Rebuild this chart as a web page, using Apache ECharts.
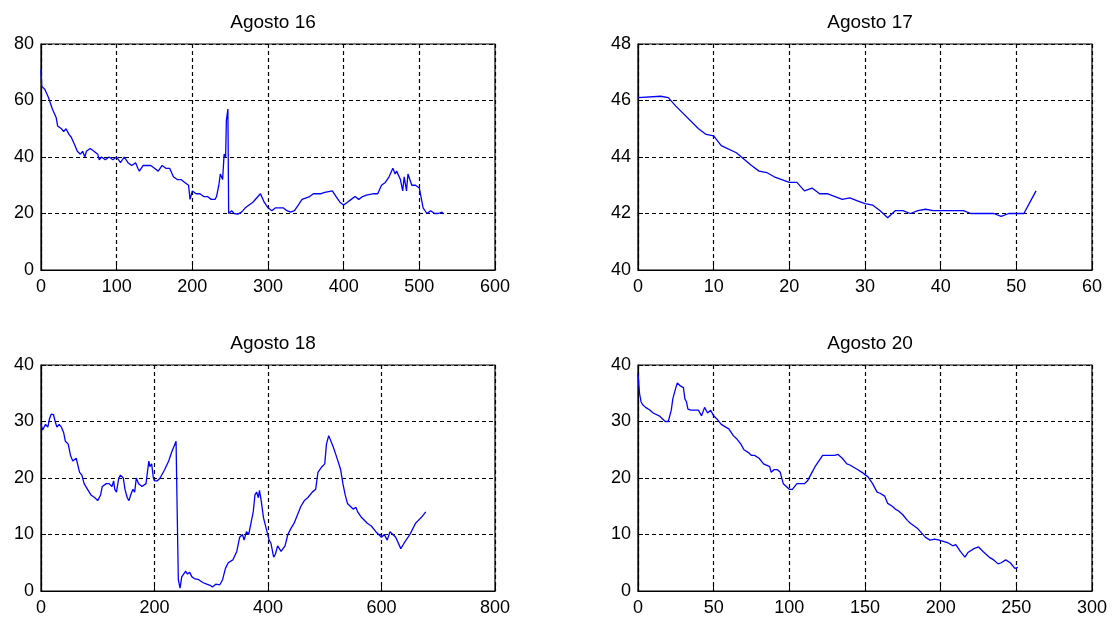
<!DOCTYPE html>
<html>
<head>
<meta charset="utf-8">
<script src="https://cdn.jsdelivr.net/npm/echarts@6/dist/echarts.min.js"></script>
<style>
  html, body { margin: 0; padding: 0; background: #fff; }
  #chart { width: 1117px; height: 619px; }
</style>
</head>
<body>
<div id="chart"></div>
<script>
// Agosto 16
const ago16X = [0, 1, 5, 10, 15, 20, 22, 27, 30, 33, 37, 40, 45, 48, 52, 55, 58, 60, 65, 70, 75, 77, 80, 85, 90, 95, 100, 105, 110, 115, 120, 125, 128, 130, 135, 140, 145, 150, 155, 160, 165, 170, 175, 180, 185, 190, 195, 197, 200, 205, 210, 215, 220, 225, 230, 232, 235, 237, 240, 242, 244, 245, 247, 248, 252, 255, 260, 265, 270, 280, 290, 295, 300, 305, 310, 320, 325, 330, 335, 340, 345, 355, 360, 370, 375, 385, 390, 395, 400, 405, 410, 415, 420, 425, 430, 440, 445, 450, 455, 460, 465, 468, 470, 475, 478, 480, 483, 485, 490, 495, 500, 505, 510, 515, 520, 525, 530, 532];
const ago16Y = [71, 65, 64, 61, 57, 54, 51, 50, 49, 50, 48, 47, 44, 42, 41, 42, 40, 42, 43, 42, 41, 39, 40, 39, 40, 39, 40, 38, 40, 38, 37, 38, 36, 35, 37, 37, 37, 36, 35, 37, 36, 36, 33, 32, 32, 31, 30, 25, 28, 27, 27, 26, 26, 25, 25, 26, 30, 34, 32, 41, 40, 53, 57, 20, 21, 20, 19.8, 20.5, 22, 24, 27, 24, 22, 21, 22, 22, 21, 20.5, 21, 23, 25, 26, 27, 27, 27.5, 28, 26, 24, 23, 24, 25, 26, 25, 26, 26.5, 27, 27, 30, 31, 33, 36, 34, 35, 32, 28, 33, 28, 34, 30, 30, 29, 22, 20, 21, 20, 20, 20.5, 19.8];

// Agosto 17
const ago17X = [0, 3, 4, 5, 8, 9, 10, 11, 13, 15, 16, 17, 18, 20, 21, 22, 23, 24, 25, 27, 28, 29, 30, 31, 32, 33, 34, 35, 36, 37, 38, 39, 43, 44, 47, 48, 49, 51, 52, 52.6];
const ago17Y = [46.1, 46.15, 46.1, 45.8, 45.0, 44.8, 44.75, 44.4, 44.15, 43.7, 43.5, 43.45, 43.3, 43.1, 43.1, 42.8, 42.9, 42.7, 42.7, 42.5, 42.55, 42.45, 42.35, 42.3, 42.1, 41.85, 42.1, 42.1, 42.0, 42.1, 42.15, 42.1, 42.1, 42.0, 42.0, 41.9, 42.0, 42.0, 42.5, 42.8];

// Agosto 18
const ago18X = [0, 3, 8, 12, 15, 18, 22, 25, 28, 32, 36, 40, 43, 48, 52, 56, 62, 68, 72, 76, 82, 88, 95, 100, 105, 108, 115, 120, 125, 128, 130, 133, 137, 140, 145, 148, 152, 155, 158, 162, 165, 168, 172, 178, 185, 190, 192, 195, 198, 200, 205, 210, 218, 225, 230, 238, 240, 242, 245, 248, 255, 258, 262, 266, 270, 278, 285, 292, 298, 302, 308, 315, 320, 325, 330, 338, 345, 350, 355, 358, 362, 366, 370, 374, 377, 380, 383, 385, 388, 392, 397, 402, 405, 410, 413, 417, 423, 430, 435, 440, 446, 452, 458, 464, 470, 478, 484, 488, 495, 500, 503, 507, 510, 515, 520, 528, 532, 536, 540, 545, 550, 555, 558, 565, 575, 582, 590, 595, 600, 605, 610, 615, 620, 625, 634, 640, 650, 655, 660, 665, 670, 678];
const ago18Y = [29.5, 28.5, 29.5, 29, 30.5, 31.3, 31.2, 30, 29, 29.5, 29, 28, 26.5, 26, 24, 23, 23.5, 21, 20.5, 19, 18, 17, 16.5, 16, 17, 18.5, 19, 19, 18.5, 19.5, 18, 17.5, 20, 20.5, 20, 18, 16.5, 16, 17, 18, 17.5, 20, 19, 18.5, 19, 23, 22, 22.5, 20, 19.5, 19.5, 20, 21.5, 23, 24.5, 26.5, 14, 2, 0.5, 2.5, 3.5, 3, 3.3, 2.5, 2.2, 2, 1.5, 1.2, 1.0, 0.7, 1.2, 1.1, 2, 4, 5, 5.5, 7, 9.5, 10, 9, 10.5, 10, 12, 14, 17, 17.5, 16.5, 17.8, 16, 13, 11, 9, 8.5, 6, 6.5, 8, 7, 8, 10, 11, 12, 13.5, 15, 16, 16.5, 17.5, 18, 21, 22, 22.5, 26, 27.5, 27.2, 25.5, 24, 21.5, 19, 17, 15.5, 15, 14.5, 14.8, 14, 13, 12, 11.5, 10.5, 10, 9.5, 10, 9, 10.5, 10, 9.5, 7.5, 8.5, 10, 11, 12, 12.5, 13, 14];

// Agosto 20
const ago20X = [0, 1, 2, 3, 5, 8, 10, 14, 18, 19, 20, 22, 23, 25, 26, 28, 30, 31, 32, 33, 35, 40, 42, 44, 46, 48, 50, 52, 55, 58, 60, 63, 65, 68, 70, 73, 75, 77, 80, 83, 87, 88, 90, 92, 94, 96, 98, 100, 102, 105, 110, 112, 115, 117, 120, 122, 125, 130, 132, 135, 138, 140, 145, 148, 150, 152, 155, 158, 160, 163, 165, 168, 170, 172, 175, 178, 180, 185, 190, 193, 196, 199, 200, 205, 208, 210, 213, 216, 218, 222, 225, 228, 232, 235, 238, 240, 243, 246, 249, 251];
const ago20Y = [38.5, 35, 33.5, 33, 32.5, 32, 31.5, 31, 30, 29.8, 30, 32, 34, 36, 36.8, 36.3, 36, 34, 33.5, 32.2, 32, 32, 31, 32.5, 31.5, 32, 31, 30.5, 29.5, 29, 28.7, 27.5, 27, 26, 25, 24.5, 24, 24, 23.5, 22.5, 22, 21, 21.5, 21.5, 21, 19, 18.5, 18, 18, 19, 19, 19.5, 21, 22, 23.2, 24, 24, 24, 24.2, 23.5, 22.5, 22.3, 21.5, 21, 20.6, 20.2, 19, 17.5, 17.3, 16.8, 15.5, 15, 14.5, 14.2, 13.5, 12.5, 12, 11, 9.5, 9, 9.2, 9, 9, 8.5, 8, 8.2, 7, 6, 6.8, 7.5, 7.8, 7, 6, 5.5, 4.8, 5, 5.5, 5, 4, 4.2];

const titles = ['Agosto 16', 'Agosto 17', 'Agosto 18', 'Agosto 20'];
const xRanges = [[0, 600, 100], [0, 60, 10], [0, 800, 200], [0, 300, 50]];
const yRanges = [[0, 80, 20], [40, 48, 2], [0, 40, 10], [0, 40, 10]];
const seriesX = [ago16X, ago17X, ago18X, ago20X];
const seriesY = [ago16Y, ago17Y, ago18Y, ago20Y];

const FONT = '"Liberation Sans", Arial, sans-serif';
const boxes = [
  { left: 41, top: 44, width: 454, height: 226 },
  { left: 638, top: 44, width: 454, height: 226 },
  { left: 41, top: 365, width: 454, height: 226 },
  { left: 638, top: 365, width: 454, height: 226 }
];

const dashGrid = { show: true, lineStyle: { color: '#000', width: 1.2, type: [4, 3] } };

function makeAxis(idx, r, isX) {
  return {
    type: 'value',
    gridIndex: idx,
    min: r[0], max: r[1], interval: r[2],
    axisLine: { show: true, onZero: false, lineStyle: { color: '#000', width: 1.2 } },
    axisTick: { show: true, inside: true, length: 5, lineStyle: { color: '#000' } },
    axisLabel: { color: '#000', fontSize: 18, fontFamily: FONT, margin: isX ? 8 : 7 },
    splitLine: dashGrid
  };
}

const option = {
  backgroundColor: '#fff',
  animation: false,
  title: boxes.map((b, i) => ({
    text: titles[i],
    left: b.left + b.width / 2,
    top: i < 2 ? 8 : 329,
    textAlign: 'center',
    textStyle: { fontSize: 19, fontWeight: 'normal', color: '#000', fontFamily: FONT }
  })),
  grid: boxes.map(b => Object.assign({ show: true, borderColor: '#000', borderWidth: 1.2, backgroundColor: '#fff' }, b)),
  xAxis: xRanges.map((r, i) => makeAxis(i, r, true)),
  yAxis: yRanges.map((r, i) => makeAxis(i, r, false)),
  series: seriesX.map((xs, i) => ({
    type: 'line',
    xAxisIndex: i,
    yAxisIndex: i,
    showSymbol: false,
    lineStyle: { color: '#0000ff', width: 1.3 },
    data: xs.map((x, k) => [x, seriesY[i][k]])
  }))
};

echarts.init(document.getElementById('chart')).setOption(option);
</script>
</body>
</html>
